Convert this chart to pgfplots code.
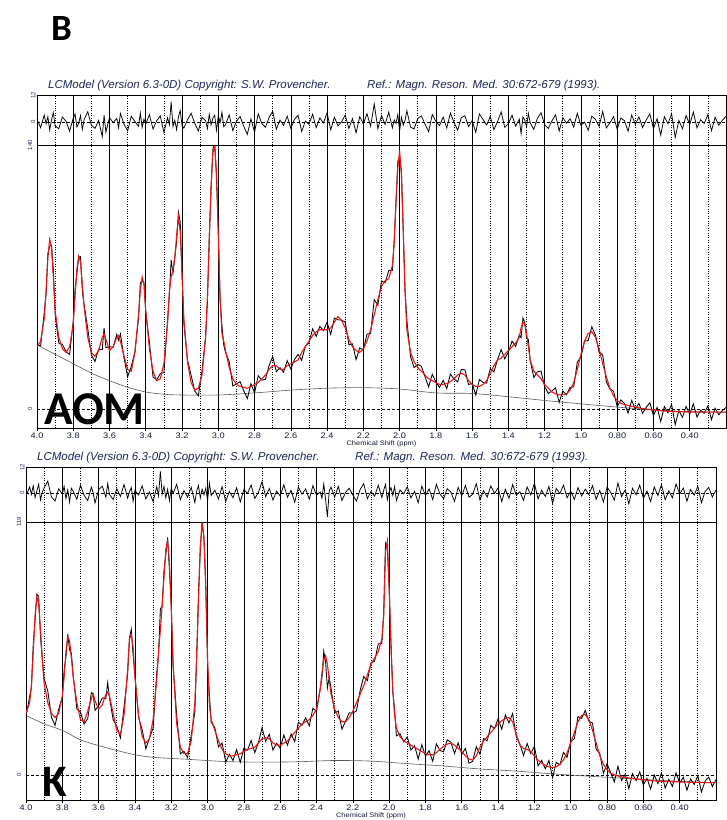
\documentclass[border=0pt]{standalone}
\usepackage{fontspec}
\setmainfont{Liberation Sans}
\newfontfamily\labelfont{Carlito}
\usepackage{pgfplots}
\usepackage{pgfplotstable}
\pgfplotsset{compat=1.18}

\definecolor{lcblue}{RGB}{28,38,92}
\definecolor{fitred}{RGB}{232,22,22}
\definecolor{basegray}{RGB}{90,90,90}

% AOM spectrum: ppm, LCModel fit, residual (data = fit + residual)
\pgfplotstableread[row sep=\\]{
ppm fit res\\
4.00 33 1.2\\ 3.98 36 -2.5\\ 3.96 48 3.1\\ 3.95 62 -0.8\\ 3.94 80 2.4\\ 3.93 90 -3.6\\
3.92 86 0.9\\ 3.91 70 4.2\\ 3.90 52 -1.7\\ 3.88 38 -3.0\\ 3.86 32 2.2\\ 3.84 30 0.4\\
3.82 33 -4.1\\ 3.80 45 1.8\\ 3.79 60 3.5\\ 3.78 74 -2.2\\ 3.77 81 -0.6\\ 3.76 78 2.9\\
3.75 66 -3.3\\ 3.74 54 1.1\\ 3.72 38 4.6\\ 3.70 30 -1.4\\ 3.68 28 -2.8\\ 3.66 31 0.7\\
3.64 38 -6.5\\ 3.63 40 3.0\\ 3.62 37 -4.4\\ 3.60 31 2.0\\ 3.58 33 -0.3\\ 3.56 38 1.6\\
3.55 39 -2.6\\ 3.54 36 3.8\\ 3.52 28 -1.0\\ 3.50 21 -3.9\\ 3.48 20 2.6\\ 3.46 30 0.2\\
3.44 50 -1.9\\ 3.43 63 4.0\\ 3.42 70 -2.4\\ 3.41 66 1.3\\ 3.40 52 -0.9\\ 3.38 32 3.3\\
3.36 20 -3.1\\ 3.34 15 0.5\\ 3.32 16 2.7\\ 3.30 24 -4.7\\ 3.28 45 1.9\\ 3.27 62 -1.2\\
3.26 70 9.0\\ 3.25 74 -2.0\\ 3.24 80 0.8\\ 3.23 92 -3.4\\ 3.22 102 2.3\\ 3.21 94 5.1\\
3.20 72 -1.6\\ 3.19 48 -2.7\\ 3.17 25 1.0\\ 3.15 14 3.9\\ 3.13 10 -0.5\\ 3.11 11 -4.0\\
3.09 18 2.1\\ 3.07 38 0.6\\ 3.06 60 -2.9\\ 3.05 88 3.4\\ 3.04 118 -1.3\\ 3.03 136 1.7\\
3.02 139 3.0\\ 3.01 126 -3.7\\ 3.00 92 2.8\\ 2.99 58 -0.2\\ 2.98 40 4.3\\ 2.97 36 -2.1\\
2.96 31 -1.1\\ 2.94 22 3.2\\ 2.92 16 -3.8\\ 2.90 13 0.3\\ 2.88 12 2.5\\ 2.86 11.5 -1.8\\
2.84 11 -5.5\\ 2.82 12 1.4\\ 2.80 13 -4.5\\ 2.78 14 3.7\\ 2.76 16 -0.7\\ 2.74 18 -2.3\\
2.72 21 2.0\\ 2.70 23 4.8\\ 2.68 23 -3.2\\ 2.66 21 0.9\\ 2.64 21 -1.5\\ 2.62 23 2.6\\
2.60 24 -2.8\\ 2.58 25 1.2\\ 2.56 26 3.0\\ 2.54 30 -4.2\\ 2.52 33 0.4\\ 2.50 36 -1.0\\
2.48 39 3.5\\ 2.46 41 -2.5\\ 2.44 42 1.8\\ 2.42 42 -0.4\\ 2.40 42 4.1\\ 2.38 43 -3.5\\
2.36 46 2.2\\ 2.34 49 -1.7\\ 2.32 47 0.1\\ 2.30 43 3.1\\ 2.28 37 -2.9\\ 2.26 33 1.5\\
2.24 31 -4.8\\ 2.22 30 2.4\\ 2.20 32 -0.8\\ 2.18 36 3.7\\ 2.16 42 -1.9\\ 2.14 50 8.0\\
2.12 58 -3.0\\ 2.10 65 2.9\\ 2.08 68 -1.1\\ 2.06 69 4.4\\ 2.04 76 -2.6\\ 2.03 88 1.0\\
2.02 110 -0.6\\ 2.01 128 3.3\\ 2.00 137 -3.9\\ 1.99 124 2.1\\ 1.98 95 -1.4\\ 1.97 62 0.8\\
1.96 42 5.0\\ 1.94 30 -2.2\\ 1.92 25 -3.1\\ 1.90 22 1.6\\ 1.88 20 2.7\\ 1.86 18 -0.9\\
1.84 16 -4.3\\ 1.82 15 3.4\\ 1.80 14 0.3\\ 1.78 13 -1.6\\ 1.76 13 2.2\\ 1.74 13.5 -2.7\\
1.72 14.5 4.0\\ 1.70 16 -0.1\\ 1.68 18 -3.6\\ 1.66 19 1.9\\ 1.64 18 2.8\\ 1.62 15 -2.0\\
1.60 13 0.6\\ 1.58 12 -4.6\\ 1.56 12 3.6\\ 1.54 13 1.1\\ 1.52 15 -1.3\\ 1.50 19 2.5\\
1.48 23 -3.4\\ 1.46 26 0.2\\ 1.44 27 4.5\\ 1.42 29 -2.4\\ 1.40 31 -0.7\\ 1.38 33 3.0\\
1.36 35 -1.8\\ 1.34 38 1.3\\ 1.33 43 -5.2\\ 1.32 46 2.3\\ 1.31 45 0.9\\ 1.30 40 -2.1\\
1.29 33 3.8\\ 1.28 26 -0.3\\ 1.26 20 -3.3\\ 1.24 18 1.7\\ 1.22 16 4.1\\ 1.20 13 -1.2\\
1.18 11 -2.8\\ 1.16 9 0.5\\ 1.14 8 3.2\\ 1.12 7.5 -4.0\\ 1.10 7.5 2.0\\ 1.08 8 -0.5\\
1.06 10 1.4\\ 1.04 14 -2.3\\ 1.02 21 3.9\\ 1.00 29 -1.5\\ 0.98 36 0.0\\ 0.96 40 -3.7\\
0.94 41 2.6\\ 0.92 38 1.2\\ 0.90 32 -1.9\\ 0.88 24 4.7\\ 0.86 17 -2.6\\ 0.84 11 -0.4\\
0.82 7 2.4\\ 0.80 4.5 -3.2\\ 0.78 3 1.8\\ 0.76 2.4 0.6\\ 0.74 1.9 -4.1\\ 0.72 1.4 3.1\\
0.70 1 -1.0\\ 0.68 0.6 2.3\\ 0.66 0.2 -2.5\\ 0.64 0 0.9\\ 0.62 -0.3 3.6\\ 0.60 -0.5 -3.0\\
0.58 -0.7 1.5\\ 0.56 -0.9 -5.8\\ 0.54 -1.1 2.4\\ 0.52 -1.2 -0.8\\ 0.50 -1.3 3.7\\ 0.48 -1.4 -6.9\\
0.46 -1.5 0.7\\ 0.44 -1.5 -3.0\\ 0.42 -1.6 2.9\\ 0.40 -1.6 -1.1\\ 0.38 -1.7 4.4\\ 0.36 -1.7 -2.6\\
0.34 -1.7 1.0\\ 0.32 -1.7 -0.6\\ 0.30 -1.7 3.3\\ 0.28 -1.7 -3.9\\ 0.26 -1.7 2.1\\ 0.24 -1.7 -1.4\\
0.22 -1.7 0.8\\ 0.20 -1.7 2.5\\
}\aomtab

% K spectrum
\pgfplotstableread[row sep=\\]{
ppm fit res\\
4.00 29 -1.5\\ 3.98 34 2.8\\ 3.97 42 -0.6\\ 3.96 58 3.4\\ 3.95 75 -2.1\\ 3.94 84 1.0\\
3.93 80 4.1\\ 3.92 68 -3.2\\ 3.91 54 0.5\\ 3.90 43 2.3\\ 3.88 34 5.5\\ 3.86 29 -1.8\\
3.84 27 -3.7\\ 3.82 29 1.9\\ 3.80 37 -0.4\\ 3.79 46 3.0\\ 3.78 58 -2.6\\ 3.77 65 1.4\\
3.76 63 -4.2\\ 3.75 55 2.2\\ 3.74 46 0.8\\ 3.72 34 -2.9\\ 3.70 26 3.6\\ 3.68 25 -1.1\\
3.66 30 -3.5\\ 3.64 36 2.7\\ 3.63 38 0.1\\ 3.62 35 -4.6\\ 3.60 31 1.5\\ 3.58 33 3.2\\
3.56 38 -2.0\\ 3.55 39 4.4\\ 3.54 37 -0.7\\ 3.52 29 -3.0\\ 3.50 21 2.0\\ 3.48 19 -1.6\\
3.46 28 3.9\\ 3.44 50 -2.4\\ 3.43 64 0.6\\ 3.42 66 2.5\\ 3.41 60 -3.8\\ 3.40 46 1.2\\
3.38 28 -0.9\\ 3.36 18 3.3\\ 3.34 15 -2.7\\ 3.32 17 0.4\\ 3.30 26 -4.0\\ 3.28 45 2.9\\
3.27 58 -1.3\\ 3.26 68 10.0\\ 3.25 80 -0.5\\ 3.24 93 3.1\\ 3.23 106 -2.2\\ 3.22 110 1.7\\
3.21 100 -3.6\\ 3.20 78 2.4\\ 3.19 52 -0.2\\ 3.17 24 4.0\\ 3.15 13 -3.1\\ 3.13 10 1.1\\
3.11 10 -1.9\\ 3.09 16 2.6\\ 3.07 34 -4.4\\ 3.06 55 0.9\\ 3.05 82 3.5\\ 3.04 108 -2.3\\
3.03 118 1.8\\ 3.02 112 -0.8\\ 3.01 88 2.2\\ 3.00 55 -3.4\\ 2.99 33 4.6\\ 2.98 26 -1.2\\
2.96 21 1.3\\ 2.94 16 -2.8\\ 2.92 12 3.0\\ 2.90 10 -3.9\\ 2.88 9 0.7\\ 2.86 9 -2.2\\
2.84 9.5 2.4\\ 2.82 10 -4.1\\ 2.80 11 1.6\\ 2.78 12 -0.3\\ 2.76 12.5 3.7\\ 2.74 13 -2.5\\
2.72 15 0.2\\ 2.70 17 5.2\\ 2.68 17.5 -1.7\\ 2.66 17 2.1\\ 2.64 15 -3.3\\ 2.62 14 0.9\\
2.60 14 -1.4\\ 2.58 15 3.8\\ 2.56 16 -2.0\\ 2.54 18 1.2\\ 2.52 20 -4.3\\ 2.50 22 2.8\\
2.48 24 -0.6\\ 2.46 25 1.9\\ 2.44 26 -2.9\\ 2.42 28 3.4\\ 2.40 31 -1.1\\ 2.38 40 0.5\\
2.37 48 -2.4\\ 2.36 54 4.2\\ 2.35 56 -3.0\\ 2.34 52 -11.0\\ 2.33 45 1.0\\ 2.32 38 2.7\\
2.30 31 -1.8\\ 2.28 27 3.1\\ 2.26 25 -3.5\\ 2.24 25 0.3\\ 2.22 27 2.2\\ 2.20 30 -0.9\\
2.18 34 -3.8\\ 2.16 38 1.6\\ 2.14 42 4.3\\ 2.12 47 -2.6\\ 2.10 52 0.7\\ 2.08 55 -1.5\\
2.06 58 3.6\\ 2.04 64 -2.1\\ 2.03 75 1.3\\ 2.02 105 4.0\\ 2.01 110 -3.2\\ 2.00 88 0.6\\
1.99 60 2.5\\ 1.98 40 -1.0\\ 1.97 28 3.0\\ 1.96 22 -3.6\\ 1.94 18 1.4\\ 1.92 16 -0.4\\
1.90 15 2.9\\ 1.88 14 -2.3\\ 1.86 13 0.8\\ 1.84 12 -4.5\\ 1.82 11 3.2\\ 1.80 10 -1.2\\
1.78 9.5 1.9\\ 1.76 9.5 -3.1\\ 1.74 10.5 4.1\\ 1.72 12 -0.5\\ 1.70 13.5 -2.6\\ 1.68 14.5 2.0\\
1.66 15 0.4\\ 1.64 14 -3.9\\ 1.62 12.5 2.6\\ 1.60 11 -1.3\\ 1.58 9 3.5\\ 1.56 7.5 -2.0\\
1.54 7 -0.6\\ 1.52 9 4.3\\ 1.50 13 -3.2\\ 1.48 16 1.1\\ 1.46 18 -1.9\\ 1.44 20 3.3\\
1.42 22 -0.2\\ 1.40 24 2.4\\ 1.38 25.5 -4.0\\ 1.36 26.5 1.7\\ 1.34 27 -2.5\\ 1.32 25 3.9\\
1.30 19 -1.0\\ 1.28 14 0.6\\ 1.26 12.5 -3.4\\ 1.24 12 2.8\\ 1.22 11 -0.9\\ 1.20 9 4.5\\
1.18 7 -2.7\\ 1.16 5.5 1.3\\ 1.14 4.5 -1.6\\ 1.12 3.8 3.0\\ 1.10 3.5 -4.8\\ 1.08 3.8 2.1\\
1.06 5 -0.3\\ 1.04 7 3.6\\ 1.02 10.5 -2.2\\ 1.00 15 0.9\\ 0.98 20 -3.0\\ 0.96 25 2.5\\
0.94 28 -1.4\\ 0.92 28.5 1.8\\ 0.90 26 -0.7\\ 0.88 21 3.4\\ 0.86 15 -2.9\\ 0.84 9 1.2\\
0.82 5 -4.2\\ 0.80 2.5 2.7\\ 0.78 0.8 0.3\\ 0.76 0 -3.3\\ 0.74 -0.5 4.6\\ 0.72 -0.9 -1.7\\
0.70 -1.2 1.5\\ 0.68 -1.4 -5.1\\ 0.66 -1.6 2.2\\ 0.64 -1.9 -0.8\\ 0.62 -2.1 3.6\\ 0.60 -2.3 -2.4\\
0.58 -2.5 0.9\\ 0.56 -2.7 -4.0\\ 0.54 -2.8 2.8\\ 0.52 -2.9 -1.2\\ 0.50 -3.0 3.9\\ 0.48 -3.1 -3.1\\
0.46 -3.1 1.0\\ 0.44 -3.2 -2.2\\ 0.42 -3.2 4.2\\ 0.40 -3.3 -0.5\\ 0.38 -3.4 2.3\\ 0.36 -3.4 -3.8\\
0.34 -3.5 1.6\\ 0.32 -3.5 -1.0\\ 0.30 -3.5 3.1\\ 0.28 -3.6 -4.4\\ 0.26 -3.6 0.7\\ 0.24 -3.6 2.6\\
0.22 -3.6 -1.9\\ 0.20 -3.6 1.4\\
}\ktab

\pgfplotsset{
  lcframe/.style={
    scale only axis, anchor=north west,
    xmin=0.2, xmax=4.0, x dir=reverse,
    axis line style={black, line width=0.8pt},
    xtick={4.0,3.8,3.6,3.4,3.2,3.0,2.8,2.6,2.4,2.2,2.0,1.8,1.6,1.4,1.2,1.0,0.8,0.6,0.4},
    minor xtick={3.9,3.7,3.5,3.3,3.1,2.9,2.7,2.5,2.3,2.1,1.9,1.7,1.5,1.3,1.1,0.9,0.7,0.5,0.3},
    xmajorgrids, xminorgrids,
    major grid style={black, line width=0.6pt},
    minor grid style={black, line width=0.7pt, dash pattern=on 1pt off 1.4pt},
    minor tick length=0pt,
    ytick style={draw=none},
    yticklabel style={rotate=90, anchor=south, inner sep=1.5pt,
      font=\fontsize{6}{7}\selectfont, text=lcblue},
  },
  lcresid/.style={lcframe, xticklabels={}, xtick style={draw=none},
    ytick={0,12}, yticklabels={0,12}},
  lcmain/.style={lcframe,
    xtick pos=bottom, tick align=outside, major tick length=3pt,
    xtick style={black, line width=0.6pt},
    xticklabels={4.0,3.8,3.6,3.4,3.2,3.0,2.8,2.6,2.4,2.2,2.0,1.8,1.6,1.4,1.2,1.0,0.80,0.60,0.40},
    xticklabel style={font=\fontsize{8}{9}\selectfont, text=lcblue!60!black, xscale=1.15, inner sep=1.5pt, yshift=-0.5pt},
    xlabel={Chemical Shift (ppm)},
    xlabel style={font=\fontsize{6.5}{7}\selectfont, text=lcblue!60!black, xscale=1.15, inner sep=0.5pt},
  },
  zeroline/.style={black, line width=0.6pt, dash pattern=on 3pt off 2pt},
  dataline/.style={black, line width=0.85pt},
  fitline/.style={fitred, line width=1.1pt},
  baseline/.style={basegray, line width=0.6pt, smooth},
}

\begin{document}
\begin{tikzpicture}
\useasboundingbox (0pt,0pt) rectangle (727pt,-820pt);

% ---------------- panel AOM ----------------
\begin{axis}[lcresid, at={(37pt,-95pt)}, width=689pt, height=50pt, ymin=-10.2, ymax=12]
\addplot[zeroline] coordinates {(4.0,0) (0.2,0)};
\addplot[dataline, line width=0.75pt] table[x=ppm, y=res] {\aomtab};
\end{axis}

\begin{axis}[lcmain, at={(37pt,-145pt)}, width=689pt, height=283pt, ymin=-10.1, ymax=140,
  ytick={0,140}, yticklabels={0,140}]
\addplot[zeroline] coordinates {(4.0,0) (0.2,0)};
\addplot[baseline] coordinates {(4.0,34) (3.9,29) (3.8,24) (3.7,19) (3.6,15) (3.5,11.5)
  (3.4,9) (3.3,7.8) (3.2,7.4) (3.0,7.4) (2.8,8.5) (2.6,10) (2.4,11) (2.2,11.3) (2.0,10.6)
  (1.8,8.5) (1.6,8.2) (1.4,6.5) (1.2,4.5) (1.0,2.7) (0.8,1) (0.6,-0.5) (0.4,-1.4) (0.2,-1.7)};
\addplot[dataline] table[x=ppm, y expr=\thisrow{fit}+\thisrow{res}] {\aomtab};
\addplot[fitline] table[x=ppm, y=fit] {\aomtab};
\end{axis}

% ---------------- panel K ----------------
\begin{axis}[lcresid, at={(26pt,-467pt)}, width=690pt, height=55pt, ymin=-13.4, ymax=12]
\addplot[zeroline] coordinates {(4.0,0) (0.2,0)};
\addplot[dataline, line width=0.75pt] table[x=ppm, y=res] {\ktab};
\end{axis}

\begin{axis}[lcmain, at={(26pt,-522pt)}, width=690pt, height=278pt, ymin=-11.8, ymax=119,
  ytick={0,119}, yticklabels={0,119}]
\addplot[zeroline] coordinates {(4.0,0) (0.2,0)};
\addplot[baseline] coordinates {(4.0,28) (3.9,24) (3.8,21) (3.7,16.5) (3.6,13.8) (3.5,11.5)
  (3.4,9.5) (3.3,8.3) (3.1,7.3) (2.9,6.3) (2.7,6) (2.5,6.2) (2.3,6.8) (2.1,6.5) (1.9,5.3)
  (1.7,4.2) (1.5,2.8) (1.3,1.8) (1.1,0.5) (0.9,-0.6) (0.7,-1.6) (0.5,-2.6) (0.3,-3.4) (0.2,-3.6)};
\addplot[dataline] table[x=ppm, y expr=\thisrow{fit}+\thisrow{res}] {\ktab};
\addplot[fitline] table[x=ppm, y=fit] {\ktab};
\end{axis}

% ---------------- header lines and panel labels ----------------
\begin{scope}[every node/.style={anchor=base west, inner sep=0pt, text=lcblue,
    font=\fontsize{11.5}{13}\selectfont\itshape}]
\node at (48pt,-88pt) {LCModel (Version 6.3-0D) Copyright: S.W. Provencher.};
\node at (367pt,-88pt) {Ref.: Magn. Reson. Med. 30:672-679 (1993).};
\node at (37pt,-460pt) {LCModel (Version 6.3-0D) Copyright: S.W. Provencher.};
\node at (355pt,-460pt) {Ref.: Magn. Reson. Med. 30:672-679 (1993).};
\end{scope}

\node[anchor=base west, inner sep=0pt, font=\labelfont\bfseries\fontsize{37}{40}\selectfont] at (51pt,-40pt) {B};
\node[anchor=base west, inner sep=0pt, font=\labelfont\bfseries\fontsize{47}{50}\selectfont] at (44pt,-424pt) {AOM};
\node[anchor=base west, inner sep=0pt, font=\labelfont\bfseries\fontsize{45}{50}\selectfont] at (42pt,-796pt) {K};
\end{tikzpicture}
\end{document}
